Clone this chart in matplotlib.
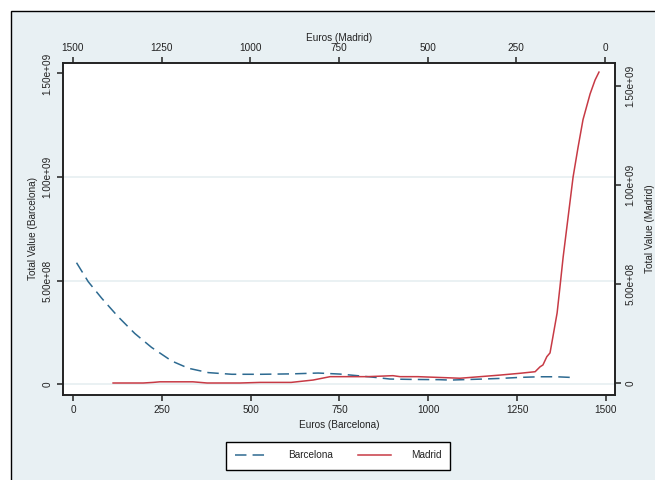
#!/usr/bin/env python

import matplotlib
matplotlib.use("Agg")
import matplotlib.pyplot as plt
from matplotlib.patches import Rectangle
from matplotlib.lines import Line2D

# Barcelona: euros vs total value (bottom / left axes)
bcn_euros = [10, 43, 81, 127, 174, 221, 278, 325, 381, 447, 531,
             617, 690, 751, 808, 850, 892, 960, 1030, 1061, 1154, 1202, 1258,
             1314, 1360, 1399]
bcn_value = [5.86e8, 4.94e8, 4.14e8, 3.25e8, 2.44e8, 1.77e8, 1.11e8, 7.6e7,
             5.5e7, 4.7e7, 4.7e7, 4.9e7, 5.3e7, 4.8e7, 3.9e7, 3.2e7, 2.4e7,
             2.2e7, 2.1e7, 1.9e7, 2.4e7, 2.7e7, 3.2e7, 3.5e7, 3.5e7, 3.2e7]

# Madrid: euros vs total value (top / right axes, top axis reversed)
mad_euros = [1387, 1302, 1274, 1255, 1162, 1122, 1094, 1029, 972, 885, 823, 775,
             719, 671, 626, 598, 578, 528, 437, 409, 352, 296, 240, 197, 183,
             175, 164, 155, 147, 135, 127, 118, 104, 90, 76, 62, 42, 28, 17]
mad_value = [0, 0, 3e6, 6e6, 6e6, 0, 0, 0, 3e6, 3e6, 1.5e7, 3.2e7, 3.2e7,
             3.2e7, 3.5e7, 3.7e7, 3.2e7, 3.2e7, 2.6e7, 2.4e7, 3.2e7, 4e7, 4.9e7,
             5.7e7, 8.2e7, 9.1e7, 1.33e8, 1.52e8, 2.32e8, 3.54e8, 4.85e8,
             6.36e8, 8.38e8, 1.04e9, 1.19e9, 1.33e9, 1.46e9, 1.53e9, 1.57e9]

euro_ticks = [0, 250, 500, 750, 1000, 1250, 1500]
value_ticks = [0, 5e8, 1e9, 1.5e9]
value_labels = ["0", "5.00e+08", "1.00e+09", "1.50e+09"]

BLUE = "#2d6a91"
RED = "#c73a45"
BG = "#e8f0f3"
GRID = "#e6eff1"

plt.rcParams["font.family"] = ["Liberation Sans", "DejaVu Sans"]
plt.rcParams["font.size"] = 7.2
plt.rcParams["text.color"] = "#222222"
plt.rcParams["axes.labelcolor"] = "#222222"
plt.rcParams["xtick.color"] = "#222222"
plt.rcParams["ytick.color"] = "#222222"


def style_axis(a):
    for s in a.spines.values():
        s.set_linewidth(1.2)
        s.set_color("#222222")
    a.tick_params(direction="out", length=4.5, width=1.1, pad=3)


def main():
    fig = plt.figure(figsize=(6.55, 4.80), dpi=100)
    fig.patch.set_facecolor("white")
    # outer graph region with its border (cut off on the right and bottom)
    fig.patches.append(Rectangle((11 / 655, -0.1), 1.0, (480 - 11) / 480 + 0.1,
                                 transform=fig.transFigure, facecolor=BG,
                                 edgecolor="black", linewidth=1.0, zorder=-10))

    pos = [63 / 655, 1 - 395 / 480, (615 - 63) / 655, (395 - 63) / 480]
    ax = fig.add_axes(pos)
    ax.set_facecolor("white")
    ax.set_xlim(-28.1, 1525.3)
    ax.set_ylim(-5.31e7, 1.5507e9)
    for v in value_ticks[:3]:
        ax.axhline(v, color=GRID, linewidth=1.2, zorder=1)
    ax.plot(bcn_euros, bcn_value, color=BLUE, linewidth=1.1,
            dashes=(7.5, 4), zorder=3)
    ax.set_xticks(euro_ticks)
    ax.set_yticks(value_ticks)
    ax.set_yticklabels(value_labels, rotation=90, va="center")
    ax.set_xlabel("Euros (Barcelona)", labelpad=3)
    ax.set_ylabel("Total Value (Barcelona)", labelpad=3.5)
    style_axis(ax)

    ax2 = fig.add_axes(pos, facecolor="none")
    ax2.set_xlim(1528.2, -28.2)
    ax2.set_ylim(-6.06e7, 1.616e9)
    ax2.plot(mad_euros, mad_value, color=RED, linewidth=1.1, zorder=3)
    ax2.xaxis.tick_top()
    ax2.xaxis.set_label_position("top")
    ax2.yaxis.tick_right()
    ax2.yaxis.set_label_position("right")
    ax2.set_xticks(euro_ticks)
    ax2.set_yticks(value_ticks)
    ax2.set_yticklabels(value_labels, rotation=90, va="center")
    ax2.set_xlabel("Euros (Madrid)", labelpad=1)
    ax2.set_ylabel("Total Value (Madrid)", labelpad=7)
    style_axis(ax2)

    handles = [Line2D([], [], color=BLUE, linewidth=1.1, dashes=(7.5, 4)),
               Line2D([], [], color=RED, linewidth=1.1)]
    leg = fig.legend(handles, ["Barcelona", "Madrid"], ncol=2,
                     loc="center", bbox_to_anchor=(338 / 655, 1 - 455.5 / 480),
                     frameon=True, fancybox=False, framealpha=1.0,
                     handlelength=3.3, handletextpad=2.0, columnspacing=2.5,
                     borderpad=0.9)
    leg.get_frame().set_edgecolor("black")
    leg.get_frame().set_linewidth(1.0)
    leg.get_frame().set_facecolor("white")

    fig.savefig("out.png", dpi=100)


if __name__ == "__main__":
    main()
